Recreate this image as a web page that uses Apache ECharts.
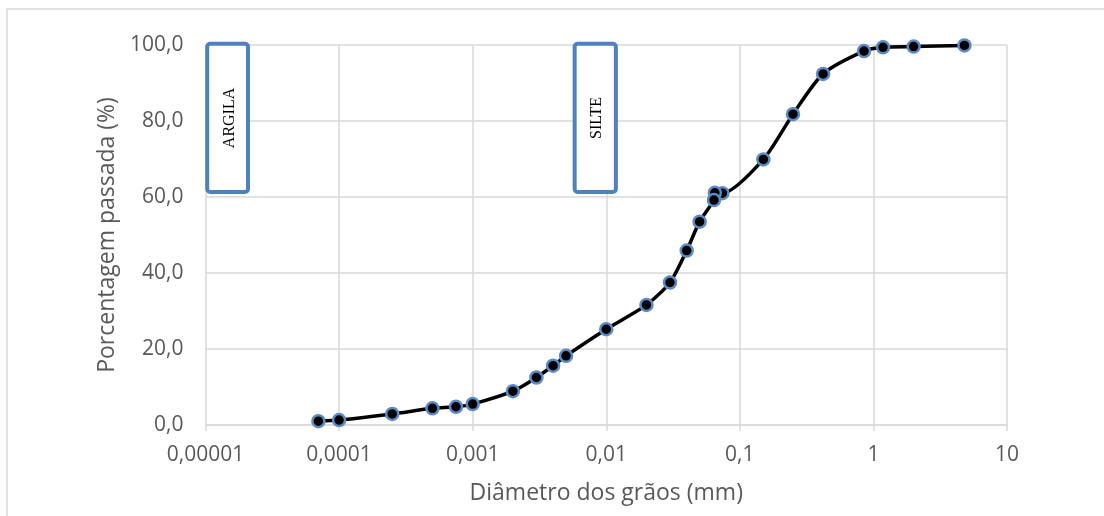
<!DOCTYPE html>
<html>
<head>
<meta charset="utf-8">
<script src="https://cdn.jsdelivr.net/npm/echarts@6/dist/echarts.min.js"></script>
<style>
html,body{margin:0;padding:0;background:#fff;}
#chart{width:1104px;height:516px;}
</style>
</head>
<body>
<div id="chart"></div>
<script>
// Diameter (mm) and percent passing
var diameters = [4.8, 2.0, 1.18, 0.85, 0.42, 0.25, 0.15, 0.074, 0.065, 0.064, 0.05, 0.04, 0.03, 0.02, 0.01, 0.005, 0.004, 0.003, 0.002, 0.001, 0.00075, 0.0005, 0.00025, 0.0001, 0.00007];
var passing   = [99.9, 99.6, 99.4, 98.4, 92.4, 81.8, 69.9, 61.0, 61.1, 59.2, 53.5, 45.9, 37.5, 31.6, 25.2, 18.2, 15.6, 12.5, 8.9, 5.5, 4.8, 4.4, 2.9, 1.3, 1.0];
var xTickValues = [0.00001, 0.0001, 0.001, 0.01, 0.1, 1, 10];
var xTickLabels = ['0,00001', '0,0001', '0,001', '0,01', '0,1', '1', '10'];
// Annotation boxes (data coordinates)
var boxLabels = ['ARGILA', 'SILTE'];
var boxXStart = [0.0000103, 0.0058];
var boxXEnd   = [0.0000208, 0.0118];
var boxYLow = 61.3, boxYHigh = 100.3;

var points = diameters.map(function (d, i) { return [d, passing[i]]; });
var textColor = '#595959';
var gridColor = '#d9d9d9';
var boxColor = '#4f81bd';

var chart = echarts.init(document.getElementById('chart'));
var option = {
  backgroundColor: '#fff',
  animation: false,
  grid: { left: 205.5, right: 97, top: 45, bottom: 91 },
  xAxis: {
    type: 'log', logBase: 10, min: 0.00001, max: 10,
    name: 'Diâmetro dos grãos (mm)', nameLocation: 'middle', nameGap: 57,
    nameTextStyle: { color: textColor, fontSize: 23, fontFamily: 'Open Sans' },
    axisLine: { show: true, lineStyle: { color: gridColor, width: 1.5 } },
    axisTick: { show: true, length: 6, lineStyle: { color: gridColor, width: 1.5 } },
    splitLine: { show: true, lineStyle: { color: gridColor, width: 1.5 } },
    axisLabel: {
      color: textColor, fontSize: 21, fontFamily: 'Open Sans', margin: 20,
      formatter: function (v) {
        for (var i = 0; i < xTickValues.length; i++) {
          if (Math.abs(Math.log10(v) - Math.log10(xTickValues[i])) < 1e-6) return xTickLabels[i];
        }
        return '';
      }
    }
  },
  yAxis: {
    type: 'value', min: 0, max: 100, interval: 20,
    name: 'Porcentagem passada (%)', nameLocation: 'middle', nameGap: 84,
    nameTextStyle: { color: textColor, fontSize: 23, fontFamily: 'Open Sans' },
    axisLine: { show: false },
    axisTick: { show: false },
    splitLine: { show: true, lineStyle: { color: gridColor, width: 1.5 } },
    axisLabel: {
      color: textColor, fontSize: 21, fontFamily: 'Open Sans', margin: 22,
      formatter: function (v) { return v.toFixed(1).replace('.', ','); }
    }
  },
  series: [{
    type: 'line',
    data: points,
    smooth: 0.25,
    symbol: 'circle',
    symbolSize: 12,
    showAllSymbol: true,
    lineStyle: { color: '#000', width: 3.5 },
    itemStyle: { color: '#000', borderColor: '#5b8ac6', borderWidth: 2.5 },
    z: 3
  }]
};
chart.setOption(option);

function drawBoxes() {
  var els = [{
    type: 'rect', silent: true, z: 0,
    shape: { x: 7, y: 9, width: 1200, height: 600 },
    style: { fill: 'none', stroke: gridColor, lineWidth: 1.5 }
  }];
  for (var i = 0; i < boxLabels.length; i++) {
    var p1 = chart.convertToPixel({ gridIndex: 0 }, [boxXStart[i], boxYHigh]);
    var p2 = chart.convertToPixel({ gridIndex: 0 }, [boxXEnd[i], boxYLow]);
    els.push({
      type: 'rect', z: 10, silent: true,
      shape: { x: p1[0], y: p1[1], width: p2[0] - p1[0], height: p2[1] - p1[1], r: 3 },
      style: { fill: '#fff', stroke: boxColor, lineWidth: 4 }
    });
    els.push({
      type: 'text', z: 11, silent: true,
      x: (p1[0] + p2[0]) / 2 + 2, y: (p1[1] + p2[1]) / 2,
      rotation: Math.PI / 2,
      style: {
        text: boxLabels[i], fill: '#000', fontSize: 16,
        fontFamily: 'Liberation Serif', align: 'center', verticalAlign: 'middle'
      }
    });
  }
  chart.setOption({ graphic: els });
}
drawBoxes();
</script>
</body>
</html>
